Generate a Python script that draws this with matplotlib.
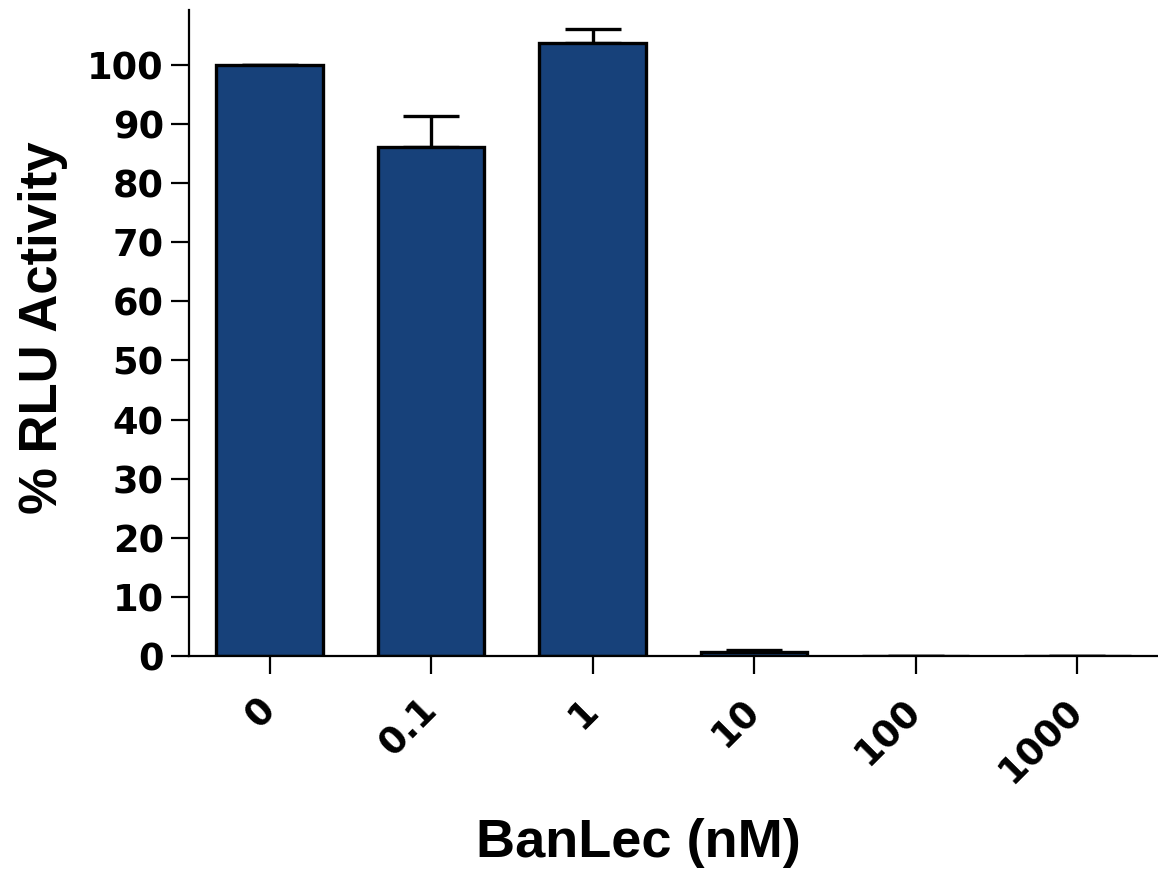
import matplotlib
matplotlib.use("Agg")
import matplotlib.pyplot as plt
import numpy as np

categories = ['0', '0.1', '1', '10', '100', '1000']
activity = [100.0, 86.1, 103.7, 0.6, 0.0, 0.0]
sem = [0.0, 5.3, 2.4, 0.4, 0.0, 0.0]
bar_color = '#17417a'

plt.rcParams['font.family'] = ['Liberation Sans', 'DejaVu Sans']
plt.rcParams['font.weight'] = 'bold'

fig = plt.figure(figsize=(11.58, 8.75), dpi=100)
ax = fig.add_axes([0.163, 0.2503, 0.837, 0.7383])

x = np.arange(len(categories))
ax.bar(x, activity, width=0.66, color=bar_color, edgecolor='black',
       linewidth=2.4, zorder=2)
ax.errorbar(x, activity, yerr=[np.zeros(len(sem)), sem], fmt='none',
            ecolor='black', elinewidth=2.4, capsize=20, capthick=2.4,
            zorder=1)

ax.set_xlim(-0.5, 5.5)
ax.set_ylim(0, 109.3)
ax.set_yticks(np.arange(0, 101, 10))
ax.set_xticks(x)

# tick labels are heavy and wide in the original -> DejaVu bold
tick_font = dict(family='DejaVu Sans', weight='bold', size=26.5)
ax.set_xticklabels(categories, rotation=45, ha='right', va='center',
                   rotation_mode='anchor', fontdict=tick_font)
ax.set_yticklabels([str(v) for v in range(0, 101, 10)], fontdict=tick_font)
ax.tick_params(axis='y', length=13, width=1.6, pad=5)
ax.tick_params(axis='x', length=13, width=1.6, pad=22)

ax.spines['top'].set_visible(False)
ax.spines['right'].set_visible(False)
ax.spines['left'].set_linewidth(1.6)
ax.spines['bottom'].set_linewidth(1.6)

ax.set_ylabel('% RLU Activity', fontsize=38, fontweight='bold')
ax.yaxis.set_label_coords(-0.125, 0.508)
ax.set_xlabel('BanLec (nM)', fontsize=39, fontweight='bold')
ax.xaxis.set_label_coords(0.464, -0.251)

fig.savefig('out.png', dpi=100)
